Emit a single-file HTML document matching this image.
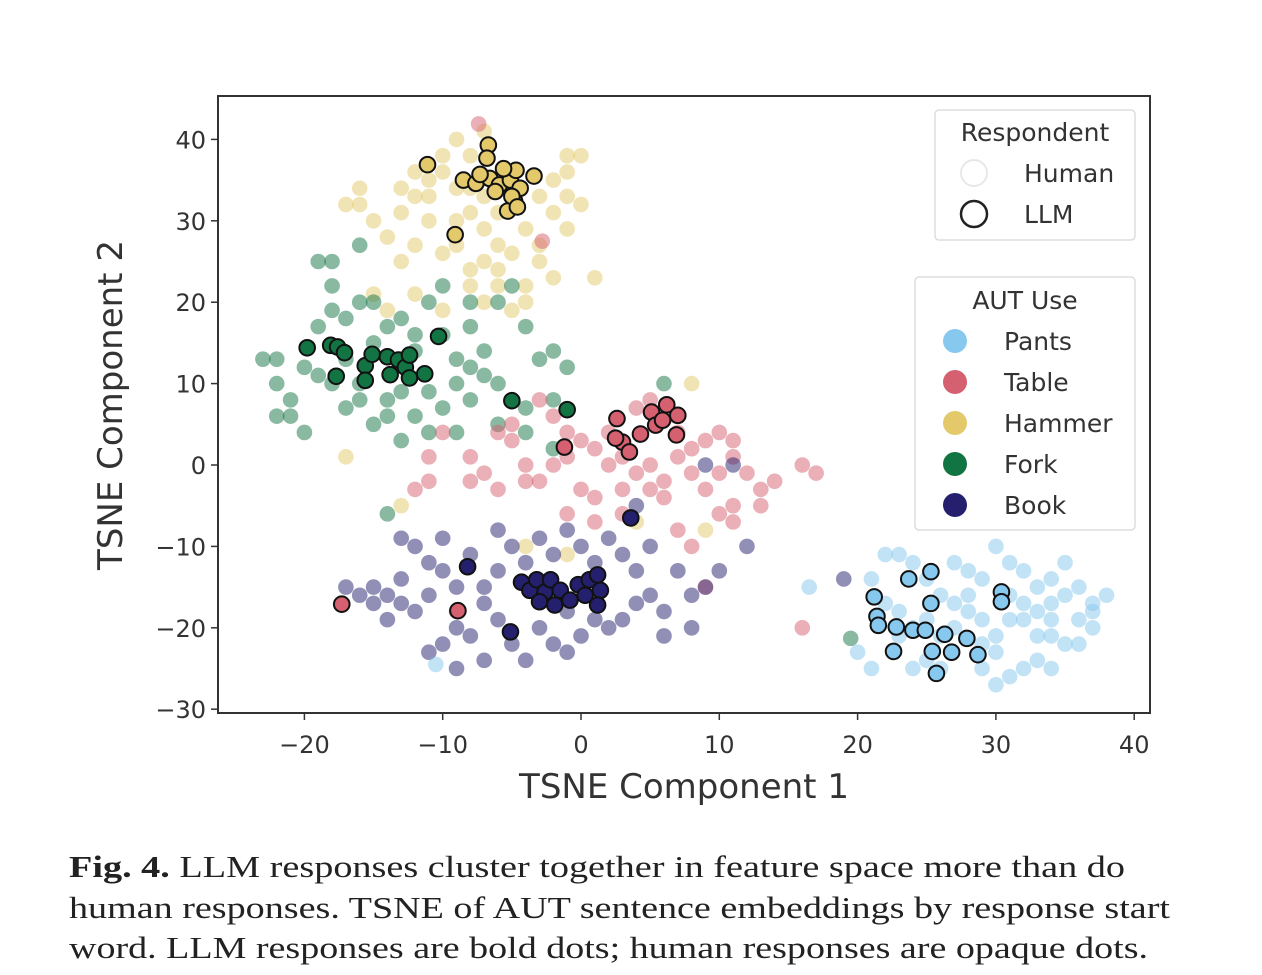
<!DOCTYPE html>
<html><head><meta charset="utf-8">
<style>
html,body{margin:0;padding:0;background:#fff;}
body{width:1262px;height:975px;overflow:hidden;position:relative;font-family:"DejaVu Sans","Liberation Sans",sans-serif;}
</style></head>
<body>
<svg id="chart" width="1262" height="840" style="position:absolute;left:0;top:0" xmlns="http://www.w3.org/2000/svg"></svg>
<svg width="1262" height="135" style="position:absolute;left:0;top:840px" xmlns="http://www.w3.org/2000/svg" font-family="Liberation Serif, serif" font-size="31" fill="#222">
<text x="69" y="37" textLength="1056" lengthAdjust="spacingAndGlyphs"><tspan font-weight="bold">Fig. 4.</tspan> LLM responses cluster together in feature space more than do</text>
<text x="69" y="78" textLength="1101" lengthAdjust="spacingAndGlyphs">human responses. TSNE of AUT sentence embeddings by response start</text>
<text x="69" y="118" textLength="1079" lengthAdjust="spacingAndGlyphs">word. LLM responses are bold dots; human responses are opaque dots.</text>
</svg>
<script>
const categories = ["Pants","Table","Hammer","Fork","Book"];
const colors = {Pants:"#86c8ee",Table:"#d5606f",Hammer:"#e3c96a",Fork:"#137443",Book:"#24206e"};
const xTicks = [-20,-10,0,10,20,30,40];
const yTicks = [40,30,20,10,0,-10,-20,-30];

const hammerHuman = [[-9,40],[-7,41],[-10,38],[-8,38],[-11,35],[-12,33],[-13,31],[-16,32],[-17,32],[-15,30],[-14,28],[-12,27],[-13,25],[-10,26],[-9,30],[-8,31],[-7,29],[-6,27],[-4,29],[-3,27],[-2,31],[-1,33],[-2,35],[-1,38],[0,38],[-1,36],[0,32],[-1,29],[-3,25],[-5,26],[-7,25],[-8,24],[-6,22],[-4,20],[-2,23],[1,23],[-5,19],[-10,19],[-12,21],[-15,21],[-14,19],[-11,33],[-9,34],[-10,36],[-12,36],[-11,30],[-9,27],[-6,31],[-3,33],[-8,34],[-7,33],[-13,34],[-16,34],[-4,22],[-7,20],[8,10],[-17,1],[-13,-5],[-4,-10],[-1,-11],[9,-8],[4,-7],[-8,22],[-6,24]];
const forkHuman = [[-22,13],[-23,13],[-22,10],[-21,8],[-21,6],[-22,6],[-20,4],[-20,12],[-19,11],[-19,17],[-18,19],[-17,18],[-18,10],[-17,7],[-16,8],[-16,10],[-15,5],[-14,6],[-14,8],[-13,9],[-12,6],[-11,4],[-10,7],[-9,10],[-9,13],[-10,16],[-8,17],[-7,14],[-7,11],[-6,10],[-8,8],[-9,4],[-11,9],[-12,16],[-14,17],[-15,20],[-16,20],[-18,25],[-19,25],[-18,22],[-13,18],[-11,20],[-10,22],[-8,20],[-6,20],[-5,22],[-4,17],[-3,13],[-2,14],[-1,12],[-2,8],[-6,5],[-4,4],[-2,2],[-13,3],[-17,13],[-15,15],[-12,14],[-8,12],[-16,27],[6,10],[-14,-6],[19.5,-21.3],[-4,7]];
const tableHuman = [[-10,4],[-11,1],[-11,-2],[-8,1],[-6,4],[-7,-1],[-5,3],[-4,0],[-3,-2],[-6,-3],[-2,6],[-1,4],[0,3],[1,2],[2,0],[-2,0],[0,-3],[1,-4],[3,-3],[4,-1],[5,0],[7,1],[8,-1],[9,-3],[10,-1],[11,1],[12,-1],[13,-3],[14,-2],[16,0],[17,-1],[13,-5],[11,-5],[10,-6],[8,2],[9,3],[10,4],[11,3],[5,8],[4,7],[-3,8],[-5,5],[-8,-2],[-1,-6],[1,-7],[3,-6],[6,-4],[7,-8],[8,-10],[11,-7],[5,-3],[7,4],[2,4],[-7.4,41.9],[-2.8,27.5],[16,-20],[-9,-18],[9,-15],[-4,-2],[3,1],[6,-2],[-1,1],[-12,-3]];
const bookHuman = [[-17,-15],[-16,-16],[-15,-17],[-14,-16],[-13,-17],[-12,-18],[-11,-16],[-13,-14],[-12,-10],[-13,-9],[-11,-12],[-10,-9],[-10,-13],[-9,-15],[-9,-20],[-8,-21],[-10,-22],[-11,-23],[-7,-17],[-6,-13],[-6,-19],[-5,-22],[-4,-24],[-3,-20],[-2,-22],[-1,-23],[0,-21],[1,-19],[-2,-11],[-3,-9],[-1,-8],[-5,-10],[-6,-8],[-4,-12],[0,-10],[1,-12],[2,-9],[3,-11],[4,-13],[4,-17],[2,-20],[3,-19],[5,-16],[6,-18],[7,-13],[8,-16],[9,-15],[10,-13],[12,-10],[8,-20],[6,-21],[-8,-11],[-14,-19],[-15,-15],[-7,-24],[-9,-25],[-3,-16],[-1,-18],[5,-10],[9,0],[11,0],[19,-14],[4,-5],[-7,-15]];
const pantsHuman = [[16.5,-15],[20,-23],[21,-25],[22,-11],[23,-11],[24,-12],[25,-14],[26,-16],[27,-12],[28,-13],[29,-14],[30,-10],[31,-12],[32,-13],[33,-15],[34,-14],[35,-12],[36,-15],[37,-17],[38,-16],[37,-20],[36,-19],[35,-22],[34,-21],[33,-24],[32,-25],[31,-26],[30,-21],[29,-19],[28,-18],[27,-17],[26,-21],[25,-24],[24,-20],[23,-18],[22,-17],[21,-14],[29,-25],[30,-27],[32,-19],[33,-18],[34,-17],[35,-16],[31,-16],[32,-17],[28,-16],[27,-20],[26,-25],[23,-21],[25,-19],[29,-22],[36,-22],[33,-21],[30,-23],[34,-25],[24,-25],[-10.5,-24.5],[31,-19],[37,-18],[34,-19]];

const hammerLLM = [[-11.1,36.9],[-6.7,39.3],[-6.8,37.7],[-8.5,35.0],[-7.6,34.6],[-6.6,35.2],[-5.9,34.4],[-5.1,35.0],[-4.4,34.0],[-4.7,36.2],[-5.6,36.4],[-3.4,35.5],[-4.8,32.4],[-5.3,31.2],[-5.0,33.0],[-9.1,28.3],[-7.3,35.7],[-6.2,33.6],[-4.6,31.7]];
const forkLLM = [[-19.8,14.4],[-18.1,14.7],[-17.6,14.5],[-17.1,13.8],[-17.7,10.9],[-15.6,12.2],[-15.1,13.6],[-15.6,10.4],[-14.0,13.3],[-13.8,11.1],[-13.2,12.9],[-12.7,12.0],[-12.4,13.5],[-12.4,10.7],[-11.3,11.2],[-10.3,15.8],[-5.0,7.9],[-1.0,6.8]];
const tableLLM = [[2.6,5.7],[6.2,7.4],[5.1,6.5],[5.4,4.9],[4.3,3.8],[3.0,2.8],[3.5,1.6],[2.5,3.3],[7.0,6.1],[6.9,3.7],[5.9,5.5],[-1.2,2.2],[-17.3,-17.1],[-8.9,-17.9]];
const bookLLM = [[3.6,-6.5],[-8.2,-12.5],[-5.1,-20.5],[-4.3,-14.4],[-3.7,-15.4],[-3.2,-14.1],[-2.6,-15.6],[-2.2,-14.1],[-1.5,-15.4],[-0.8,-16.6],[-0.2,-14.7],[0.3,-16.0],[0.6,-14.1],[1.4,-15.4],[1.2,-17.2],[-3.0,-16.8],[-1.9,-17.2],[1.2,-13.5]];
const pantsLLM = [[21.2,-16.2],[23.7,-14.0],[25.3,-13.1],[25.3,-17.0],[21.4,-18.6],[21.5,-19.7],[22.8,-19.9],[24.0,-20.3],[24.9,-20.3],[26.3,-20.8],[27.9,-21.3],[22.6,-22.9],[25.4,-22.9],[26.8,-23.0],[28.7,-23.3],[25.7,-25.6],[30.4,-15.6],[30.4,-16.8]];

const NS="http://www.w3.org/2000/svg";
const svg=document.getElementById('chart');
const X0=218,X1=1150,Y0=96,Y1=713;
function sx(v){return 581+v*13.83;}
function sy(v){return 465-v*8.14;}
function el(t,a,p){const e=document.createElementNS(NS,t);for(const k in a)e.setAttribute(k,a[k]);(p||svg).appendChild(e);return e;}

const plot=el('g',{});



function drawHuman(arr,cat){
  arr.forEach(p=>{
    const c=el('circle',{cx:sx(p[0]),cy:sy(p[1]),r:7.8,fill:colors[cat],'fill-opacity':0.5},plot);
    
    
  });
}
function drawLLM(arr,cat){
  arr.forEach(p=>{
    const c=el('circle',{cx:sx(p[0]),cy:sy(p[1]),r:7.8,fill:colors[cat],stroke:'#111',"stroke-width":2},plot);
    
    
  });
}
drawHuman(hammerHuman,'Hammer');drawHuman(forkHuman,'Fork');drawHuman(tableHuman,'Table');drawHuman(bookHuman,'Book');drawHuman(pantsHuman,'Pants');
drawLLM(hammerLLM,'Hammer');drawLLM(forkLLM,'Fork');drawLLM(tableLLM,'Table');drawLLM(bookLLM,'Book');drawLLM(pantsLLM,'Pants');

const frame=el('rect',{x:X0,y:Y0,width:X1-X0,height:Y1-Y0,fill:'none',stroke:'#333','stroke-width':2});



xTicks.forEach(v=>{
  el('line',{x1:sx(v),x2:sx(v),y1:Y1,y2:Y1+7,stroke:'#333','stroke-width':1.5});
  const t=el('text',{x:sx(v),y:Y1+40,'text-anchor':'middle','font-size':24,fill:'#333'});
  t.textContent=(v<0?'\u2212'+(-v):v);
  
  
});
yTicks.forEach(v=>{
  el('line',{x1:X0-7,x2:X0,y1:sy(v),y2:sy(v),stroke:'#333','stroke-width':1.5});
  const t=el('text',{x:X0-12,y:sy(v)+9,'text-anchor':'end','font-size':24,fill:'#333'});
  t.textContent=(v<0?'\u2212'+(-v):v);
  
  
});
const xt=el('text',{x:684,y:798,'text-anchor':'middle','font-size':34,fill:'#333'});
xt.textContent='TSNE Component 1';


const yt=el('text',{x:0,y:0,'text-anchor':'middle','font-size':34,fill:'#333',transform:'translate(122,405) rotate(-90)'});
yt.textContent='TSNE Component 2';



const lg1=el('g',{});


el('rect',{x:935,y:110,width:200,height:130,rx:4,fill:'#fff','fill-opacity':0.9,stroke:'#ddd','stroke-width':1.5},lg1);
let t=el('text',{x:1035,y:141,'text-anchor':'middle','font-size':25,fill:'#333'},lg1);t.textContent='Respondent';
el('circle',{cx:974,cy:173,r:13,fill:'none',stroke:'#e8e8e8','stroke-width':2},lg1);
t=el('text',{x:1024,y:182,'font-size':25,fill:'#333'},lg1);t.textContent='Human';


el('circle',{cx:974,cy:214,r:13,fill:'none',stroke:'#222','stroke-width':2.5},lg1);
t=el('text',{x:1024,y:223,'font-size':25,fill:'#333'},lg1);t.textContent='LLM';



const lg2=el('g',{});


el('rect',{x:915,y:277,width:220,height:253,rx:4,fill:'#fff','fill-opacity':0.9,stroke:'#ddd','stroke-width':1.5},lg2);
t=el('text',{x:1025,y:309,'text-anchor':'middle','font-size':25,fill:'#333'},lg2);t.textContent='AUT Use';
categories.forEach((c,i)=>{
  const y=341+i*41;
  el('circle',{cx:955,cy:y,r:12,fill:colors[c]},lg2);
  const tt=el('text',{x:1004,y:y+9,'font-size':25,fill:'#333'},lg2);tt.textContent=c;
  
  
});
</script>
</body></html>
